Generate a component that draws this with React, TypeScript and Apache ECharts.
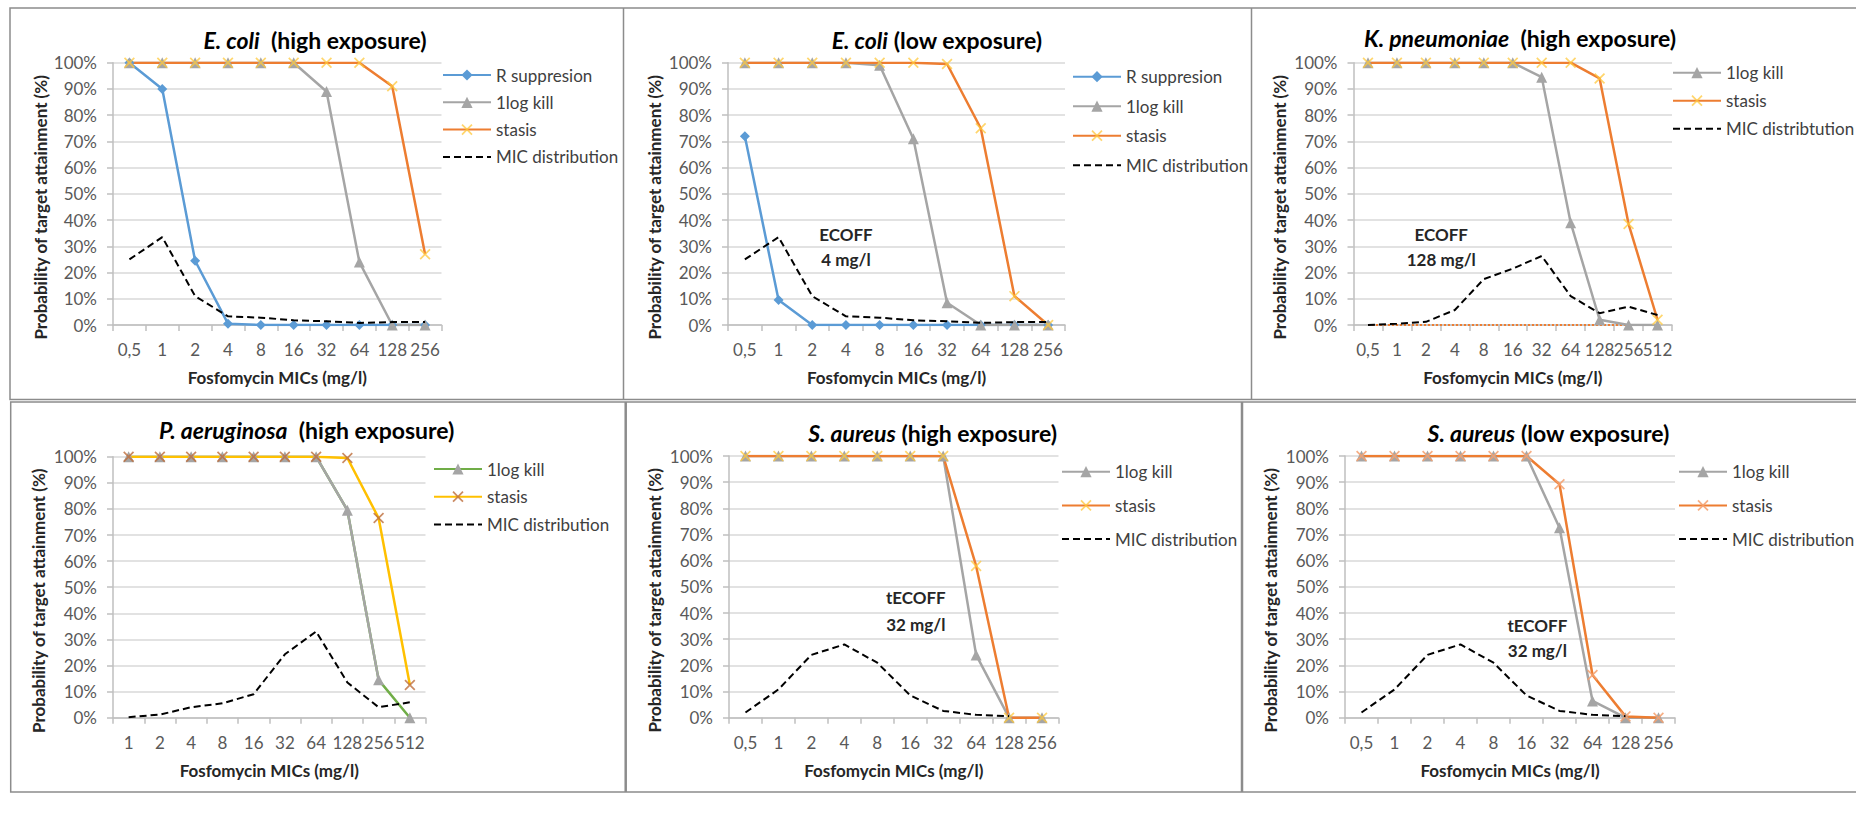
import React, { useEffect, useRef } from 'react';
import * as echarts from 'echarts';

const FONT = 'Lato, "Noto Sans", sans-serif';

// ---------- categories ----------
const catsStd = ['0,5', '1', '2', '4', '8', '16', '32', '64', '128', '256'];
const catsKp = ['0,5', '1', '2', '4', '8', '16', '32', '64', '128', '256', '512'];
const catsPa = ['1', '2', '4', '8', '16', '32', '64', '128', '256', '512'];

// ---------- E. coli (high exposure) ----------
const ecHighRsup = [100, 90, 24.5, 0.5, 0, 0, 0, 0, 0, 0];
const ecHighKill = [100, 100, 100, 100, 100, 100, 89, 24, 0, 0];
const ecHighStasis = [100, 100, 100, 100, 100, 100, 100, 100, 91, 27];
const ecMic = [25, 33.5, 11, 3.3, 2.8, 1.8, 1.4, 0.8, 1.1, 1.1];

// ---------- E. coli (low exposure) ----------
const ecLowRsup = [72, 9.5, 0, 0, 0, 0, 0, 0, 0, 0];
const ecLowKill = [100, 100, 100, 100, 99, 71, 8.5, 0, 0, 0];
const ecLowStasis = [100, 100, 100, 100, 100, 100, 99.5, 75, 11, 0];

// ---------- K. pneumoniae (high exposure) ----------
const kpKill = [100, 100, 100, 100, 100, 100, 94.5, 39, 2, 0, 0];
const kpStasis = [100, 100, 100, 100, 100, 100, 100, 100, 94, 38.5, 2];
const kpMic = [0, 0.5, 1.2, 5.7, 17.5, 21.5, 26.3, 11, 4.5, 7, 3.8];
const kpZero = [0, 0, 0, 0, 0, 0, 0, 0, 0, 0, 0];

// ---------- P. aeruginosa (high exposure) ----------
const paKill = [100, 100, 100, 100, 100, 100, 100, 79.5, 14.5, 0];
const paStasis = [100, 100, 100, 100, 100, 100, 100, 99.5, 76.5, 12.5];
const paMic = [0.2, 1.2, 4, 5.5, 9, 24.3, 33, 13.5, 4, 5.9];

// ---------- S. aureus ----------
const saHighKill = [100, 100, 100, 100, 100, 100, 100, 24, 0, 0];
const saHighStasis = [100, 100, 100, 100, 100, 100, 100, 58, 0, 0];
const saLowKill = [100, 100, 100, 100, 100, 100, 72.6, 6.4, 0, 0];
const saLowStasis = [100, 100, 100, 100, 100, 100, 89.2, 16.3, 0.5, 0];
const saMic = [2, 10.8, 24, 28, 21, 8.5, 2.6, 1.1, 0.6, null];

const BLUE = '#5B9BD5';
const GRAY = '#A5A5A5';
const ORANGE = '#ED7D31';
const GOLD = '#FFC000';
const GREEN = '#70AD47';
const X_SYM = 'path://M0,1.1L1.1,0L5,3.9L8.9,0L10,1.1L6.1,5L10,8.9L8.9,10L5,6.1L1.1,10L0,8.9L3.9,5Z';

type Box = { left: number; top: number; width: number; height: number };

const panels: {
  title: [string, string];
  cats: string[];
  grid: Box;
  tx: number;
  ty: number;
  lg: [number, number, number];
  yGap: number;
  note?: [number, number, number, string, string];
}[] = [
  { title: ['E. coli', '  (high exposure)'], cats: catsStd, grid: { left: 113, top: 62.7, width: 328.5, height: 262.3 }, tx: 315, ty: 40, lg: [442, 66.5, 10.3], yGap: 64 },
  { title: ['E. coli', ' (low exposure)'], cats: catsStd, grid: { left: 728, top: 62.7, width: 337, height: 262.3 }, tx: 937, ty: 40, lg: [1072, 68.2, 12.5], yGap: 65, note: [3, 34.6, 25, 'ECOFF', '4 mg/l'] },
  { title: ['K. pneumoniae', '  (high exposure)'], cats: catsKp, grid: { left: 1353.5, top: 62.7, width: 318.5, height: 262.3 }, tx: 1520, ty: 37.7, lg: [1672, 64.2, 11], yGap: 66, note: [2.53, 34.6, 25, 'ECOFF', '128 mg/l'] },
  { title: ['P. aeruginosa', '  (high exposure)'], cats: catsPa, grid: { left: 113, top: 456.7, width: 312.5, height: 261 }, tx: 306.7, ty: 430, lg: [433, 460.5, 10.7], yGap: 66 },
  { title: ['S. aureus', ' (high exposure)'], cats: catsStd, grid: { left: 729, top: 456, width: 329.5, height: 261.7 }, tx: 932.6, ty: 433, lg: [1061, 463.2, 16.7], yGap: 66, note: [5.17, 45.9, 35.7, 'tECOFF', '32 mg/l'] },
  { title: ['S. aureus', ' (low exposure)'], cats: catsStd, grid: { left: 1345, top: 456, width: 330, height: 261.7 }, tx: 1548.6, ty: 433, lg: [1678, 463.2, 16.7], yGap: 66, note: [5.33, 35.4, 25.5, 'tECOFF', '32 mg/l'] },
];

function line(pi: number, name: string, data: any[], color: string, symbol: string, symColor: string, size: number, extra: any = {}) {
  return {
    type: 'line',
    name: `${pi}|${name}`,
    xAxisIndex: pi,
    yAxisIndex: pi,
    data,
    symbol,
    symbolSize: size,
    lineStyle: { color, width: 2.5 },
    itemStyle: { color: symColor },
    emphasis: { disabled: true },
    ...extra,
  };
}
function mic(pi: number, name: string, data: any[]) {
  return {
    type: 'line',
    name: `${pi}|${name}`,
    xAxisIndex: pi,
    yAxisIndex: pi,
    data,
    symbol: 'none',
    connectNulls: false,
    lineStyle: { color: '#000000', width: 2, type: [7, 4] },
    itemStyle: { color: '#000000' },
    emphasis: { disabled: true },
    z: 5,
  };
}

const XLIGHT = 'rgba(255,200,60,0.75)';

const seriesByPanel: any[][] = [
  [
    line(0, 'R suppresion', ecHighRsup, BLUE, 'diamond', BLUE, 10),
    line(0, '1log kill', ecHighKill, GRAY, 'triangle', GRAY, 11),
    line(0, 'stasis', ecHighStasis, ORANGE, X_SYM, XLIGHT, 11),
    mic(0, 'MIC distribution', ecMic),
  ],
  [
    line(1, 'R suppresion', ecLowRsup, BLUE, 'diamond', BLUE, 10),
    line(1, '1log kill', ecLowKill, GRAY, 'triangle', GRAY, 11),
    line(1, 'stasis', ecLowStasis, ORANGE, X_SYM, XLIGHT, 11),
    mic(1, 'MIC distribution', ecMic),
  ],
  [
    line(2, 'zero', kpZero, ORANGE, 'none', ORANGE, 0, { lineStyle: { color: ORANGE, width: 2, type: [2, 2] } }),
    line(2, '1log kill', kpKill, GRAY, 'triangle', GRAY, 11),
    line(2, 'stasis', kpStasis, ORANGE, X_SYM, XLIGHT, 11),
    mic(2, 'MIC distribtution', kpMic),
  ],
  [
    line(3, '1log kill', paKill, GREEN, 'triangle', GRAY, 11),
    line(3, 'kill-gray', paKill.map((v, i) => (i <= 8 ? v : null)), GRAY, 'none', GRAY, 0),
    line(3, 'stasis', paStasis, GOLD, X_SYM, 'rgba(190,110,60,0.8)', 11),
    mic(3, 'MIC distribution', paMic),
  ],
  [
    line(4, '1log kill', saHighKill, GRAY, 'triangle', GRAY, 11),
    line(4, 'stasis', saHighStasis, ORANGE, X_SYM, XLIGHT, 11),
    mic(4, 'MIC distribution', saMic),
  ],
  [
    line(5, '1log kill', saLowKill, GRAY, 'triangle', GRAY, 11),
    line(5, 'stasis', saLowStasis, ORANGE, X_SYM, 'rgba(244,160,110,0.85)', 11),
    mic(5, 'MIC distribution', saMic),
  ],
];

const legendNames: string[][] = [
  ['0|R suppresion', '0|1log kill', '0|stasis', '0|MIC distribution'],
  ['1|R suppresion', '1|1log kill', '1|stasis', '1|MIC distribution'],
  ['2|1log kill', '2|stasis', '2|MIC distribtution'],
  ['3|1log kill', '3|stasis', '3|MIC distribution'],
  ['4|1log kill', '4|stasis', '4|MIC distribution'],
  ['5|1log kill', '5|stasis', '5|MIC distribution'],
];

export default function App() {
  const ref = useRef<HTMLDivElement>(null);
  useEffect(() => {
    if (!ref.current) return;
    const chart = echarts.init(ref.current, null, { renderer: 'svg' });

    const grids = panels.map((p) => ({ ...p.grid, containLabel: false }));
    const xAxes = panels.map((p, i) => ({
      type: 'category',
      gridIndex: i,
      data: p.cats,
      boundaryGap: true,
      name: 'Fosfomycin MICs (mg/l)',
      nameLocation: 'middle',
      nameGap: 44,
      nameTextStyle: { fontFamily: FONT, fontSize: 17, fontWeight: 'bold', color: '#262626' },
      axisLine: { show: true, lineStyle: { color: '#BFBFBF', width: 1.5 } },
      axisTick: { show: true, alignWithLabel: false, interval: 0, length: 6, lineStyle: { color: '#BFBFBF', width: 1.5 } },
      axisLabel: { interval: 0, margin: 16, fontFamily: FONT, fontSize: 17, color: '#595959' },
      splitLine: { show: false },
    }));
    const yAxes = panels.map((p, i) => ({
      type: 'value',
      gridIndex: i,
      min: 0,
      max: 100,
      interval: 10,
      name: 'Probability of target attainment (%)',
      nameLocation: 'middle',
      nameRotate: 90,
      nameGap: p.yGap,
      nameTextStyle: { fontFamily: FONT, fontSize: 17, fontWeight: 'bold', color: '#262626', padding: [0, 27, 0, 0] },
      axisLine: { show: true, lineStyle: { color: '#BFBFBF', width: 1.5 } },
      axisTick: { show: true, length: 6, lineStyle: { color: '#BFBFBF', width: 1.5 } },
      axisLabel: { formatter: '{value}%', margin: 16, fontFamily: FONT, fontSize: 17, color: '#595959' },
      splitLine: { show: true, lineStyle: { color: '#D9D9D9', width: 1.5 } },
    }));
    const legends = panels.map((p, i) => ({
      orient: 'vertical',
      left: p.lg[0],
      top: p.lg[1],
      itemGap: p.lg[2],
      itemWidth: 48,
      itemHeight: 14,
      padding: 0,
      selectedMode: false,
      data: legendNames[i].map((n) => (n.indexOf('MIC') >= 0 ? { name: n, itemStyle: { opacity: 0 } } : n)),
      formatter: (n: string) => n.split('|')[1],
      textStyle: { fontFamily: FONT, fontSize: 17, color: '#404040' },
    }));

    const graphics: any[] = [];
    // frame of the figure
    const stroke = '#8C8C8C';
    graphics.push({ type: 'rect', silent: true, shape: { x: 10, y: 8, width: 1860, height: 391.5 }, style: { fill: 'none', stroke, lineWidth: 1.5 } });
    graphics.push({ type: 'line', silent: true, shape: { x1: 623.5, y1: 8, x2: 623.5, y2: 399.5 }, style: { stroke, lineWidth: 1.5 } });
    graphics.push({ type: 'line', silent: true, shape: { x1: 1251.5, y1: 8, x2: 1251.5, y2: 399.5 }, style: { stroke, lineWidth: 1.5 } });
    graphics.push({ type: 'rect', silent: true, shape: { x: 10.7, y: 402, width: 1860, height: 390 }, style: { fill: 'none', stroke, lineWidth: 1.5 } });
    graphics.push({ type: 'line', silent: true, shape: { x1: 625.7, y1: 402, x2: 625.7, y2: 792 }, style: { stroke, lineWidth: 2.5 } });
    graphics.push({ type: 'line', silent: true, shape: { x1: 1242, y1: 402, x2: 1242, y2: 792 }, style: { stroke, lineWidth: 2.5 } });

    panels.forEach((p) => {
      graphics.push({
        type: 'text',
        silent: true,
        x: p.tx,
        y: p.ty,
        style: {
          text: `{i|${p.title[0]}}{n|${p.title[1]}}`,
          align: 'center',
          verticalAlign: 'middle',
          rich: {
            i: { fontFamily: FONT, fontSize: 23, fontWeight: 'bold', fontStyle: 'italic', fill: '#000000' },
            n: { fontFamily: FONT, fontSize: 23, fontWeight: 'bold', fill: '#000000' },
          },
        },
      });
      if (p.note) {
        const [idx, y1, y2, t1, t2] = p.note;
        const g = p.grid;
        const x = g.left + ((idx + 0.5) * g.width) / p.cats.length;
        const py = (v: number) => g.top + (1 - v / 100) * g.height;
        [
          [t1, y1],
          [t2, y2],
        ].forEach(([t, v]) => {
          graphics.push({
            type: 'text',
            silent: true,
            x,
            y: py(v as number),
            style: { text: t, align: 'center', verticalAlign: 'middle', fontFamily: FONT, fontSize: 17, fontWeight: 'bold', fill: '#262626' },
          });
        });
      }
    });

    chart.setOption({
      animation: false,
      backgroundColor: '#ffffff',
      grid: grids,
      xAxis: xAxes,
      yAxis: yAxes,
      legend: legends,
      series: seriesByPanel.flat(),
      graphic: { elements: graphics },
    });
    return () => chart.dispose();
  }, []);
  return <div ref={ref} style={{ position: 'absolute', left: 0, top: 0, width: 1856, height: 817, background: '#fff' }} />;
}
